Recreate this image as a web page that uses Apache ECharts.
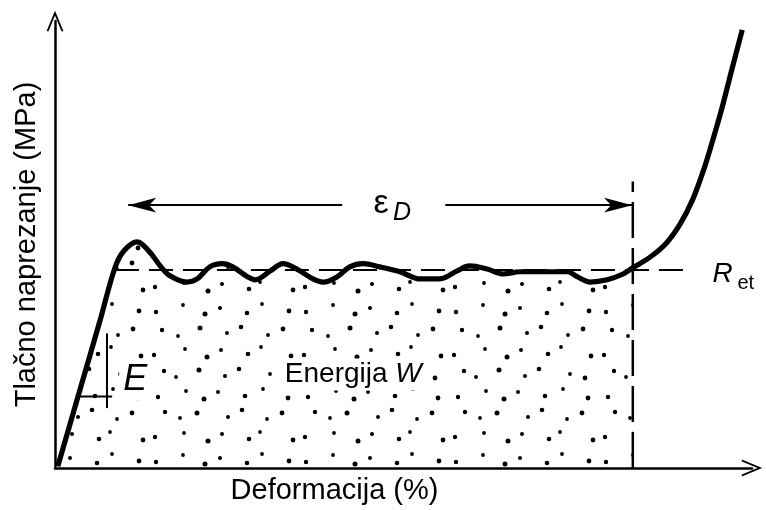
<!DOCTYPE html>
<html><head><meta charset="utf-8">
<script src="https://cdn.jsdelivr.net/npm/echarts@6/dist/echarts.min.js"></script>
<style>html,body{margin:0;padding:0;background:#fff}#c{width:766px;height:510px}</style>
</head><body><div id="c"></div>
<script>
// Stress-strain curve of a cellular material (schematic), strain in %, stress in arbitrary MPa units
const strain = [0.4, 3.6, 6.5, 8.6, 9.9, 11.8, 13.6, 15.1, 16.5, 18.9, 20.4, 22.2, 24.0, 25.5, 27.6, 28.7, 30.9, 32.7, 34.7, 37.0, 38.5, 40.5, 42.3, 44.2, 46.6, 49.5, 52.4, 55.2, 57.7, 59.5, 62.0, 64.3, 66.7, 70.6, 73.5, 74.9, 76.8, 79.2, 81.5, 82.9, 85.4, 87.7, 89.7, 91.5, 93.0, 94.4, 95.7, 97.1, 98.6];
const stress = [0.4, 17.6, 33.2, 44.8, 48.6, 50.6, 48.3, 45.2, 43.0, 41.6, 42.3, 45.0, 45.7, 45.0, 42.8, 42.1, 44.1, 45.7, 44.5, 42.3, 41.6, 42.8, 45.0, 45.7, 45.0, 43.9, 42.3, 42.3, 44.1, 45.2, 44.5, 43.4, 43.9, 43.9, 43.9, 42.8, 41.6, 42.1, 43.4, 44.8, 47.2, 50.3, 54.6, 60.1, 66.4, 73.5, 80.6, 89.1, 98.0];
const densificationStrain = 82.9;   // end of plateau (epsilon_D)
const plateauStress = 44.3;         // R_et
const plateauLineX = [8.6, 91.1];
const densLineTop = 64.1;
const arrowY = 58.8;
const arrowLeft = [41.2, 10.5];
const arrowRight = [56.0, 82.8];
const modulusTickX = 7.46, modulusTickY = [30.1, 13.4];
const modulusBaseY = 16.0, modulusBaseX = [3.6, 8.2];
const xTitle = 'Deformacija (%)';
const yTitle = 'Tlačno naprezanje (MPa)';
const labels = [
  {text: 'E', pos: [11.5, 19.6], size: 36, italic: true, bg: true},
  {text: '{a|Energija }{b|W}', pos: [42.8, 20.9], size: 28, italic: false, bg: true},
  {text: 'ε', pos: [46.8, 59.2], size: 34, italic: false},
  {text: 'D', pos: [49.8, 57.0], size: 25, italic: true},
  {text: 'R', pos: [95.8, 43.4], size: 28, italic: true},
  {text: 'et', pos: [99.1, 41.2], size: 20, italic: false}
];

const FONT = "'Liberation Sans', Arial, sans-serif";
const fillCount = strain.findIndex(v => v >= densificationStrain) + 1;
const curve = strain.map((x, i) => [x, stress[i]]);
const fillCurve = curve.slice(0, fillCount);

// stipple texture (decorative fill style)
const tile = document.createElement('canvas');
tile.width = 150; tile.height = 150;
const g = tile.getContext('2d');
g.fillStyle = '#000';
const dots = [[6,12],[33,5],[55,14],[70,8],[97,13],[112,4],[139,11],
 [12,30],[28,36],[50,28],[77,33],[91,27],[118,35],[133,29],
 [4,55],[35,49],[57,57],[71,50],[98,54],[111,47],[141,56],
 [14,71],[26,77],[49,70],[75,76],[89,69],[120,74],[135,78],
 [8,97],[36,91],[54,99],[68,92],[95,96],[113,89],[138,98],
 [15,112],[30,118],[47,113],[78,117],[92,110],[117,119],[132,113],
 [5,137],[34,133],[58,141],[72,134],[99,139],[110,132],[143,140]];
const radii = [2.2, 1.9, 2.5, 2.0, 2.3, 1.9, 2.4];
dots.forEach(([x, y], i) => { g.beginPath(); g.arc(x, y, radii[i % 7], 0, Math.PI * 2); g.fill(); });

const chev = 'path://M0,24 L10,0 L20,24 L17.6,24 L10,5.5 L2.4,24 Z';
const chart = echarts.init(document.getElementById('c'));
chart.setOption({
  animation: false,
  backgroundColor: '#fff',
  grid: {left: 55, right: 14, top: 21, bottom: 40},
  xAxis: {
    type: 'value', min: 0, max: 100,
    name: xTitle, nameLocation: 'middle', nameGap: 8,
    nameTextStyle: {fontSize: 29, color: '#000', fontFamily: FONT, padding: [0, 138, 0, 0]},
    axisLine: {lineStyle: {color: '#000', width: 2.5}, symbol: ['none', chev], symbolSize: [17, 22]},
    axisTick: {show: false}, axisLabel: {show: false}, splitLine: {show: false}
  },
  yAxis: {
    type: 'value', min: 0, max: 100,
    name: yTitle, nameLocation: 'middle', nameGap: 14,
    nameTextStyle: {fontSize: 29, color: '#000', fontFamily: FONT},
    axisLine: {show: true, lineStyle: {color: '#000', width: 2.5}, symbol: ['none', chev], symbolSize: [17, 22]},
    axisTick: {show: false}, axisLabel: {show: false}, splitLine: {show: false}
  },
  series: [
    {type: 'line', data: fillCurve, smooth: 0.35, showSymbol: false, z: 1,
     lineStyle: {width: 0}, areaStyle: {color: {image: tile, repeat: 'repeat'}, opacity: 1}},
    {type: 'line', data: [[plateauLineX[0], plateauStress], [plateauLineX[1], plateauStress]], showSymbol: false, z: 2,
     lineStyle: {color: '#000', width: 2, type: [24, 10]}},
    {type: 'line', data: [[densificationStrain, 0], [densificationStrain, densLineTop]], showSymbol: false, z: 2,
     lineStyle: {color: '#000', width: 2.5, type: [36, 10]}},
    {type: 'line', data: [[modulusTickX, modulusTickY[0]], [modulusTickX, modulusTickY[1]]], showSymbol: false, z: 2,
     lineStyle: {color: '#000', width: 2}},
    {type: 'line', data: [[modulusBaseX[0], modulusBaseY], [modulusBaseX[1], modulusBaseY]], showSymbol: false, z: 2,
     lineStyle: {color: '#000', width: 2}},
    {type: 'line', data: curve, smooth: 0.35, showSymbol: false, z: 5,
     lineStyle: {color: '#000', width: 5.2},
     markLine: {silent: true, symbol: ['none', 'arrow'], symbolSize: [11, 28], label: {show: false},
       lineStyle: {color: '#000', width: 2, type: 'solid'},
       data: [
         [{coord: [arrowLeft[0], arrowY]}, {coord: [arrowLeft[1], arrowY]}],
         [{coord: [arrowRight[0], arrowY]}, {coord: [arrowRight[1], arrowY]}]
       ]}},
    {type: 'scatter', symbolSize: 0, z: 6, itemStyle: {opacity: 1},
     data: labels.map(l => ({value: l.pos, itemStyle: {opacity: 1},
       label: {show: true, position: 'inside', formatter: l.text, opacity: 1,
       color: '#000', fontFamily: FONT, fontSize: l.size, fontStyle: l.italic ? 'italic' : 'normal',
       backgroundColor: l.bg ? '#fff' : 'transparent', padding: l.bg ? [2, 4] : 0,
       rich: {a: {fontSize: 28, color: '#000', fontFamily: FONT}, b: {fontSize: 28, color: '#000', fontFamily: FONT, fontStyle: 'italic'}}}}))}
  ]
});
</script></body></html>
